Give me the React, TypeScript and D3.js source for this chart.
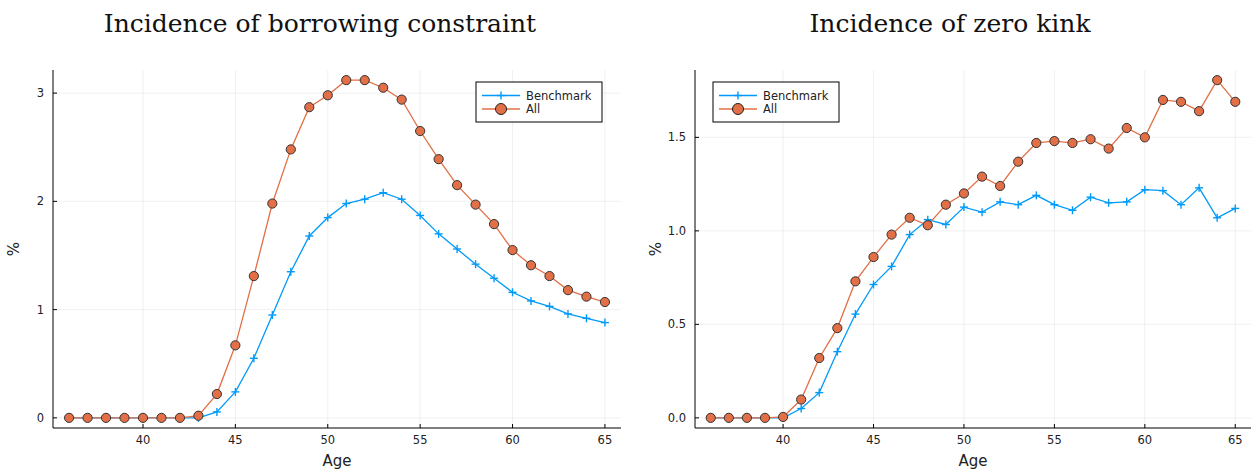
import React from "react";
import * as d3 from "d3";

const ages = d3.range(36, 66);

// borrowing constraint panel
const bcBenchmark = [
  0, 0, 0, 0, 0, 0, 0, 0.0, 0.055, 0.24, 0.55, 0.95, 1.35, 1.68, 1.85, 1.98, 2.02, 2.08, 2.02, 1.87,
  1.7, 1.56, 1.42, 1.29, 1.16, 1.08, 1.03, 0.96, 0.92, 0.88,
];
const bcAll = [
  0, 0, 0, 0, 0, 0, 0, 0.02, 0.22, 0.67, 1.31, 1.98, 2.48, 2.87, 2.98, 3.12, 3.12, 3.05, 2.94, 2.65,
  2.39, 2.15, 1.97, 1.79, 1.55, 1.41, 1.31, 1.18, 1.12, 1.07,
];
const bcYTicks = [0, 1, 2, 3];

// zero kink panel
const zkBenchmark = [
  0, 0, 0, 0, 0, 0.05, 0.135, 0.354, 0.555, 0.713, 0.81, 0.98, 1.06, 1.034, 1.127, 1.1, 1.155, 1.14,
  1.19, 1.14, 1.11, 1.18, 1.15, 1.155, 1.22, 1.215, 1.14, 1.23, 1.07, 1.12,
];
const zkAll = [
  0, 0, 0, 0, 0.005, 0.098, 0.32, 0.48, 0.73, 0.86, 0.98, 1.07, 1.03, 1.14, 1.2, 1.29, 1.24, 1.37,
  1.47, 1.48, 1.47, 1.49, 1.44, 1.55, 1.5, 1.7, 1.69, 1.64, 1.806, 1.69,
];
const zkYTicks = [0, 0.5, 1.0, 1.5];

const xTicks = [40, 45, 50, 55, 60, 65];
const seriesNames = ["Benchmark", "All"];

const BLUE = "#009afa";
const ORANGE = "#e26f46";
const sans = "'DejaVu Sans', sans-serif";

interface PanelProps {
  left: number;
  right: number;
  titleX: number;
  title: string;
  bench: number[];
  all: number[];
  yTicks: number[];
  yFmt: (v: number) => string;
  legendX: number;
}

const Panel: React.FC<PanelProps> = ({ left, right, titleX, title, bench, all, yTicks, yFmt, legendX }) => {
  const top = 70;
  const bottom = 428;
  const xPad = (65 - 36) * 0.03;
  const x = d3.scaleLinear().domain([36 - xPad, 65 + xPad]).range([left, right]);
  const yMax = d3.max(all.concat(bench)) as number;
  const y = d3.scaleLinear().domain([-yMax * 0.03, yMax * 1.03]).range([bottom, top]);
  const line = d3
    .line<number>()
    .x((_, i) => x(ages[i]))
    .y((d) => y(d));
  const cx = (left + right) / 2;

  const cross = (px: number, py: number, k: string) => (
    <g key={k} stroke={BLUE} strokeWidth={1.4}>
      <line x1={px - 4} x2={px + 4} y1={py} y2={py} />
      <line x1={px} x2={px} y1={py - 4} y2={py + 4} />
    </g>
  );

  const lg = { x: legendX, y: 82, w: 126, h: 40 };

  return (
    <g>
      <text x={titleX} y={32} textAnchor="middle" fontFamily="'DejaVu Serif', serif" fontSize={25} fill="#111">
        {title}
      </text>
      {/* grid */}
      {xTicks.map((t) => (
        <line key={"gx" + t} x1={x(t)} x2={x(t)} y1={top} y2={bottom} stroke="#000" strokeOpacity={0.1} strokeWidth={0.6} />
      ))}
      {yTicks.map((t) => (
        <line key={"gy" + t} x1={left} x2={right} y1={y(t)} y2={y(t)} stroke="#000" strokeOpacity={0.1} strokeWidth={0.6} />
      ))}
      {/* axes */}
      <line x1={left} x2={right} y1={bottom} y2={bottom} stroke="#000" strokeWidth={1} />
      <line x1={left} x2={left} y1={top} y2={bottom} stroke="#000" strokeWidth={1} />
      {xTicks.map((t) => (
        <g key={"xt" + t}>
          <line x1={x(t)} x2={x(t)} y1={bottom} y2={bottom - 4} stroke="#000" />
          <text x={x(t)} y={444} textAnchor="middle" fontFamily={sans} fontSize={11.5} fill="#222">
            {t}
          </text>
        </g>
      ))}
      {yTicks.map((t) => (
        <g key={"yt" + t}>
          <line x1={left} x2={left + 4} y1={y(t)} y2={y(t)} stroke="#000" />
          <text x={left - 9} y={y(t) + 4} textAnchor="end" fontFamily={sans} fontSize={11.5} fill="#222">
            {yFmt(t)}
          </text>
        </g>
      ))}
      <text x={cx} y={466} textAnchor="middle" fontFamily={sans} fontSize={15} fill="#222">
        Age
      </text>
      <text
        transform={`translate(${left - 34},${(top + bottom) / 2}) rotate(-90)`}
        textAnchor="middle"
        fontFamily={sans}
        fontSize={15}
        fill="#222"
      >
        %
      </text>
      {/* series */}
      <path d={line(bench) || ""} fill="none" stroke={BLUE} strokeWidth={1.3} />
      {bench.map((v, i) => cross(x(ages[i]), y(v), "b" + i))}
      <path d={line(all) || ""} fill="none" stroke={ORANGE} strokeWidth={1.3} />
      {all.map((v, i) => (
        <circle key={"a" + i} cx={x(ages[i])} cy={y(v)} r={4.6} fill={ORANGE} stroke="#333" strokeWidth={1} />
      ))}
      {/* legend */}
      <rect x={lg.x} y={lg.y} width={lg.w} height={lg.h} fill="#fff" stroke="#000" strokeWidth={1} />
      {seriesNames.map((n, i) => {
        const ly = lg.y + 13.5 + i * 13.5;
        const color = i === 0 ? BLUE : ORANGE;
        return (
          <g key={n}>
            <line x1={lg.x + 6} x2={lg.x + 44} y1={ly} y2={ly} stroke={color} strokeWidth={1.3} />
            {i === 0 ? (
              cross(lg.x + 25, ly, "lc")
            ) : (
              <circle cx={lg.x + 25} cy={ly} r={5.5} fill={ORANGE} stroke="#222" strokeWidth={1} />
            )}
            <text x={lg.x + 50} y={ly + 4} fontFamily={sans} fontSize={11.5} fill="#222">
              {n}
            </text>
          </g>
        );
      })}
    </g>
  );
};

export default function App() {
  return (
    <svg width={1259} height={470} style={{ position: "absolute", left: 0, top: 0, background: "#fff" }}>
      <rect width={1259} height={470} fill="#fff" />
      <Panel
        left={53}
        right={621}
        titleX={320}
        title="Incidence of borrowing constraint"
        bench={bcBenchmark}
        all={bcAll}
        yTicks={bcYTicks}
        yFmt={(v) => String(v)}
        legendX={476}
      />
      <Panel
        left={695}
        right={1251}
        titleX={950}
        title="Incidence of zero kink"
        bench={zkBenchmark}
        all={zkAll}
        yTicks={zkYTicks}
        yFmt={(v) => v.toFixed(1)}
        legendX={713}
      />
    </svg>
  );
}
